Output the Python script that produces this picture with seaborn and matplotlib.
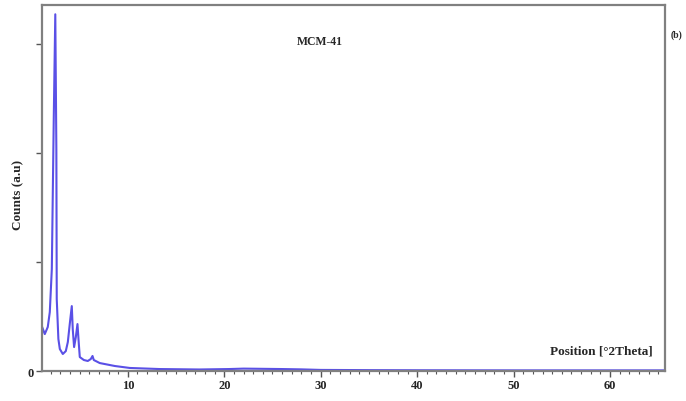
import matplotlib
matplotlib.use("Agg")
import matplotlib.pyplot as plt
import seaborn as sns
import pandas as pd

# XRD pattern of MCM-41 (2-theta in degrees, intensity in counts)
two_theta = [1.08, 1.39, 1.70, 1.91, 2.12, 2.32, 2.48, 2.59, 2.63, 2.80, 2.95,
             3.26, 3.57, 3.78, 3.98, 4.19, 4.29, 4.43, 4.61, 4.78, 4.92, 5.02,
             5.44, 5.85, 6.16, 6.34, 6.47, 7.09, 8.65, 10.2, 13.3, 17.4, 20.5,
             22.0, 24.0, 26.0, 28.0, 30.0, 35.0, 40.0, 50.0, 60.0, 65.7]
counts = [413, 339, 404, 541, 936, 2312, 3275, 2037, 661, 294, 202,
          156, 183, 266, 431, 596, 385, 220, 312, 431, 248, 128,
          101, 92, 110, 138, 101, 73, 46, 28, 18, 14, 18,
          22, 20, 18, 15, 10, 8, 7, 6, 6, 6]

x_ticks = [10, 20, 30, 40, 50, 60]
y_ticks = [0, 1000, 2000, 3000]
y_tick_labels = ["0", "", "", ""]

df = pd.DataFrame({"2theta": two_theta, "counts": counts})

sns.set_style("ticks")
plt.rcParams["font.family"] = ["Liberation Serif", "DejaVu Serif"]
plt.rcParams["font.weight"] = "bold"

fig = plt.figure(figsize=(6.86, 4.02), dpi=100)
ax = fig.add_axes([0.0612, 0.0746, 0.9082, 0.9104])

sns.lineplot(data=df, x="2theta", y="counts", ax=ax, color="#5a50e6",
             linewidth=1.5, estimator=None, sort=False)

ax.set_xlim(1.1, 65.7)
ax.set_ylim(0, 3360)
ax.set_xticks(x_ticks)
ax.set_xticks(range(2, 66), minor=True)
ax.set_yticks(y_ticks)
ax.set_yticklabels(y_tick_labels)
ax.tick_params(axis="both", which="major", direction="out", length=4,
               width=1, color="#555555", labelsize=9, pad=2)
ax.tick_params(axis="x", which="minor", direction="out", length=2.5,
               width=0.8, color="#555555")
for lab in ax.get_xticklabels() + ax.get_yticklabels():
    lab.set_fontweight("bold")

for sp in ax.spines.values():
    sp.set_color("#808080")
    sp.set_linewidth(1.6)

ax.set_xlabel("")
ax.set_ylabel("")

fig.text(0.026, 0.515, "Counts (a.u)", rotation=90, ha="center", va="center",
         fontsize=9.5, fontweight="bold")
fig.text(320 / 686, 1 - 42 / 402, "MCM-41", fontsize=8.5, fontweight="bold",
         ha="center", va="center")
fig.text(653 / 686, 1 - 352 / 402, "Position [°2Theta]", ha="right",
         va="center", fontsize=9.5, fontweight="bold")
fig.text(671 / 686, 1 - 35 / 402, "(b)", ha="left", va="center",
         fontsize=7, fontweight="bold")

fig.savefig("out.png", dpi=100)
